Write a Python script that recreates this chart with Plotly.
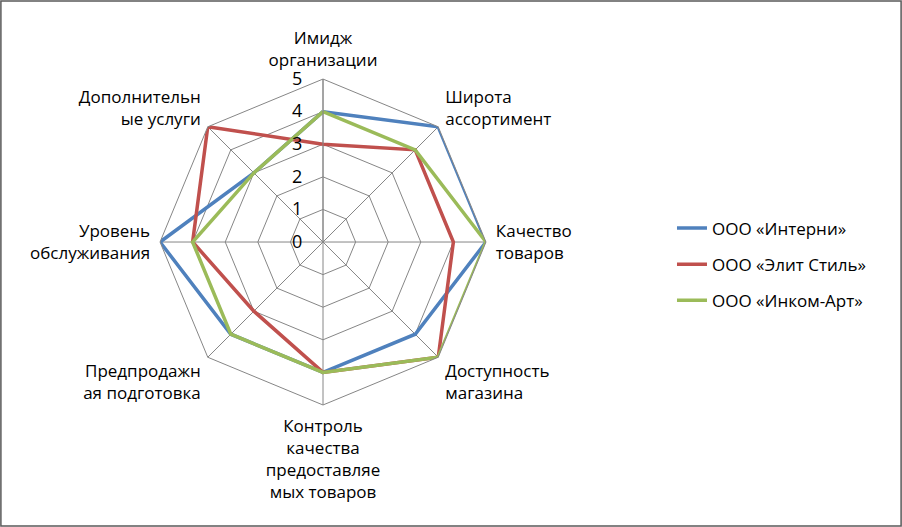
import plotly.graph_objects as go

categories = [
    "Имидж<br>организации",
    "Широта<br>ассортимент",
    "Качество<br>товаров",
    "Доступность<br>магазина",
    "Контроль<br>качества<br>предоставляе<br>мых товаров",
    "Предпродажн<br>ая подготовка",
    "Уровень<br>обслуживания",
    "Дополнительн<br>ые услуги",
]
series_names = ["ООО «Интерни»", "ООО «Элит Стиль»", "ООО «Инком-Арт»"]
interni = [4, 5, 5, 4, 4, 4, 5, 3]
elit = [3, 4, 4, 5, 4, 3, 4, 5]
inkom = [4, 4, 5, 5, 4, 4, 4, 3]
radial_ticks = [0, 1, 2, 3, 4, 5]

colors = ["#4F81BD", "#C0504D", "#9BBB59"]
font_family = "Open Sans, Liberation Sans, sans-serif"

fig = go.Figure()
for name, vals, col in zip(series_names, [interni, elit, inkom], colors):
    fig.add_trace(go.Scatterpolar(
        r=vals + vals[:1],
        theta=categories + categories[:1],
        mode="lines",
        name=name,
        legendgroup=name,
        line=dict(color=col, width=3.5),
    ))

fig.update_layout(
    width=902, height=527,
    margin=dict(l=0, r=0, t=0, b=0),
    paper_bgcolor="white",
    font=dict(family=font_family, size=17, color="black"),
    polar=dict(
        domain=dict(x=[0.1774, 0.5388], y=[0.2315, 0.850]),
        bgcolor="white",
        gridshape="linear",
        angularaxis=dict(
            direction="clockwise", rotation=90,
            showline=True, linecolor="#868686", linewidth=1,
            gridcolor="#868686", gridwidth=1,
            ticks="outside", ticklen=6, tickcolor="rgba(0,0,0,0)",
            tickfont=dict(size=17),
        ),
        radialaxis=dict(
            range=[0, 5], tickvals=radial_ticks,
            ticktext=[f"{t}\u00a0\u00a0\u00a0" for t in radial_ticks],
            angle=90, tickangle=90,
            showline=True, linecolor="#868686", linewidth=1,
            gridcolor="#868686", gridwidth=1,
            ticks="", tickfont=dict(size=18), side="counterclockwise",
        ),
    ),
    legend=dict(
        x=0.745, y=0.498, xanchor="left", yanchor="middle",
        font=dict(size=17), tracegroupgap=11, bgcolor="rgba(0,0,0,0)",
    ),
    showlegend=True,
    shapes=[dict(type="rect", xref="paper", yref="paper", x0=0.001, y0=0.002, x1=0.999, y1=0.998,
                 line=dict(color="#595959", width=1.5))],
)

fig.write_html("out.html", config={"displayModeBar": False},
               post_script="document.body.style.margin='0';document.body.style.overflow='hidden';")
